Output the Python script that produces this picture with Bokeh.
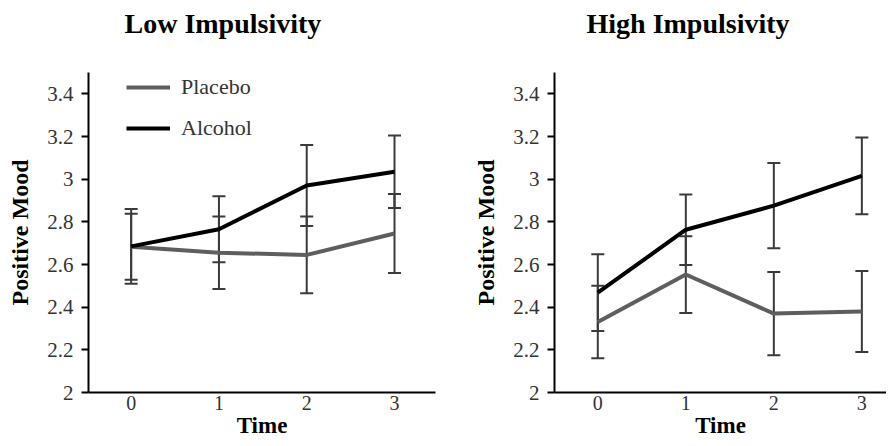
from bokeh.plotting import figure
from bokeh.models import (ColumnDataSource, Whisker, TeeHead, FixedTicker, Legend,
                          LegendItem, Range1d, Title)
from bokeh.layouts import row
from bokeh.embed import file_html
from bokeh.resources import INLINE

time = [0, 1, 2, 3]
y_ticks = [2.0, 2.2, 2.4, 2.6, 2.8, 3.0, 3.2, 3.4]
y_tick_labels = ["2", "2.2", "2.4", "2.6", "2.8", "3", "3.2", "3.4"]

low_placebo = [2.683, 2.655, 2.645, 2.745]
low_placebo_err = [0.155, 0.17, 0.18, 0.185]
low_alcohol = [2.685, 2.765, 2.97, 3.035]
low_alcohol_err = [0.175, 0.155, 0.19, 0.17]

high_placebo = [2.33, 2.553, 2.37, 2.38]
high_placebo_err = [0.17, 0.18, 0.195, 0.19]
high_alcohol = [2.468, 2.763, 2.876, 3.015]
high_alcohol_err = [0.18, 0.165, 0.2, 0.18]

SERIF = "Liberation Serif"
PLACEBO_COLOR = "#5e5e5e"
ALCOHOL_COLOR = "#000000"
ERR_COLOR = "#3a3a3a"
FIG_H = 440


def make_panel(title, placebo, p_err, alcohol, a_err, width, x_start, x_end,
               border_right, title_offset, with_legend):
    p = figure(width=width, height=FIG_H, output_backend="svg", toolbar_location=None,
               x_range=Range1d(x_start, x_end), y_range=Range1d(2.0, 3.5),
               min_border_left=88, min_border_right=border_right,
               min_border_top=72, min_border_bottom=10)
    p.outline_line_color = None
    p.xgrid.grid_line_color = None
    p.ygrid.grid_line_color = None
    p.background_fill_color = "white"
    p.border_fill_color = "white"

    # spacer between frame and title, then the title itself
    p.add_layout(Title(text=" ", text_font_size="10px", standoff=21), "above")
    p.add_layout(Title(text=title, text_font=SERIF, text_font_style="bold",
                       text_font_size="28px", text_color="black", align="left",
                       offset=title_offset, standoff=0), "above")

    # x axis
    p.xaxis.ticker = FixedTicker(ticks=time)
    p.xaxis.major_tick_out = 0
    p.xaxis.major_tick_in = 0
    p.xaxis.minor_tick_line_color = None
    p.xaxis.axis_line_width = 2
    p.xaxis.axis_line_color = "black"
    p.xaxis.major_label_text_font = SERIF
    p.xaxis.major_label_text_font_size = "20px"
    p.xaxis.major_label_text_color = "#333333"
    p.xaxis.major_label_standoff = 3
    p.xaxis.axis_label = "Time"
    p.xaxis.axis_label_text_font = SERIF
    p.xaxis.axis_label_text_font_style = "bold"
    p.xaxis.axis_label_text_font_size = "23px"
    p.xaxis.axis_label_text_color = "black"
    p.xaxis.axis_label_standoff = 0

    # y axis
    p.yaxis.ticker = FixedTicker(ticks=y_ticks)
    p.yaxis.major_label_overrides = dict(zip(y_ticks, y_tick_labels))
    p.yaxis.major_tick_out = 7
    p.yaxis.major_tick_in = 0
    p.yaxis.major_tick_line_width = 2
    p.yaxis.major_tick_line_color = "black"
    p.yaxis.minor_tick_line_color = None
    p.yaxis.axis_line_width = 2
    p.yaxis.axis_line_color = "black"
    p.yaxis.major_label_text_font = SERIF
    p.yaxis.major_label_text_font_size = "21px"
    p.yaxis.major_label_text_color = "#333333"
    p.yaxis.major_label_standoff = 8
    p.yaxis.axis_label = "Positive Mood"
    p.yaxis.axis_label_text_font = SERIF
    p.yaxis.axis_label_text_font_style = "bold"
    p.yaxis.axis_label_text_font_size = "24px"
    p.yaxis.axis_label_text_color = "black"
    p.yaxis.axis_label_standoff = 11

    src = ColumnDataSource(data=dict(
        x=time,
        placebo=placebo,
        alcohol=alcohol,
        p_up=[m + e for m, e in zip(placebo, p_err)],
        p_lo=[m - e for m, e in zip(placebo, p_err)],
        a_up=[m + e for m, e in zip(alcohol, a_err)],
        a_lo=[m - e for m, e in zip(alcohol, a_err)],
    ))

    r_p = p.line("x", "placebo", source=src, line_color=PLACEBO_COLOR, line_width=4,
                 line_join="round")
    r_a = p.line("x", "alcohol", source=src, line_color=ALCOHOL_COLOR, line_width=4,
                 line_join="round")

    for up, lo in (("p_up", "p_lo"), ("a_up", "a_lo")):
        w = Whisker(base="x", upper=up, lower=lo, source=src,
                    line_color=ERR_COLOR, line_width=2,
                    upper_head=TeeHead(size=13, line_width=2, line_color=ERR_COLOR),
                    lower_head=TeeHead(size=13, line_width=2, line_color=ERR_COLOR))
        p.add_layout(w)

    if with_legend:
        legend = Legend(items=[LegendItem(label="Placebo", renderers=[r_p]),
                               LegendItem(label="Alcohol", renderers=[r_a])],
                        location=(38, 251), orientation="vertical",
                        padding=0, margin=0, spacing=15,
                        glyph_width=44, glyph_height=26, label_height=26,
                        label_standoff=11,
                        label_text_font=SERIF, label_text_font_size="22px",
                        label_text_color="#333333",
                        border_line_color=None, background_fill_alpha=0)
        p.add_layout(legend, "center")
    return p


left = make_panel("Low Impulsivity", low_placebo, low_placebo_err, low_alcohol,
                  low_alcohol_err, 466, -0.486, 3.467, 31, 36, True)
right = make_panel("High Impulsivity", high_placebo, high_placebo_err, high_alcohol,
                   high_alcohol_err, 420, -0.492, 3.28, 0, 32, False)

layout = row(left, right)
open("out.html", "w").write(file_html(layout, INLINE))
